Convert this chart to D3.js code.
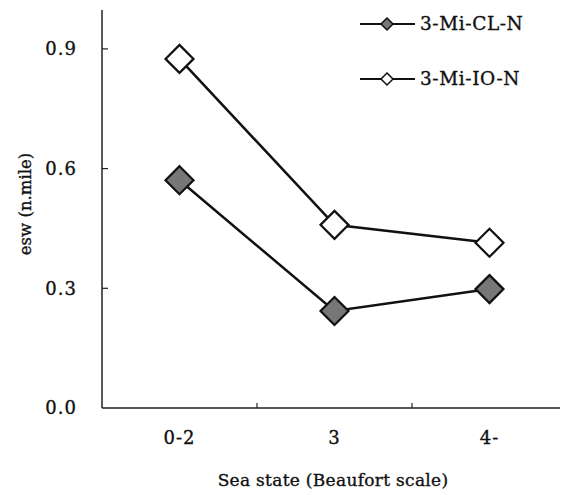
<!DOCTYPE html>
<html>
<head>
<meta charset="utf-8">
<script src="https://cdn.jsdelivr.net/npm/d3@7"></script>
<style>
  html, body { margin: 0; padding: 0; background: #fff; }
  svg { display: block; }
</style>
</head>
<body>
<svg id="chart" width="562" height="495"></svg>
<script>
const categories = ["0-2", "3", "4-"];
const seriesNames = ["3-Mi-CL-N", "3-Mi-IO-N"];
const clValues = [0.571, 0.243, 0.298];
const ioValues = [0.875, 0.459, 0.414];
const yTicks = [0.0, 0.3, 0.6, 0.9];
const xTitle = "Sea state (Beaufort scale)";
const yTitle = "esw (n.mile)";

const FONT = "'DejaVu Serif', serif";

const series = [
  { name: seriesNames[0], values: clValues, fill: "#777" },
  { name: seriesNames[1], values: ioValues, fill: "#fff" }
];

const svg = d3.select("#chart");
const pLeft = 102, pRight = 567, pTop = 9, pBottom = 408;

const x = d3.scaleBand().domain(categories).range([pLeft, pRight]);
const y = d3.scaleLinear().domain([0, 1]).range([pBottom, pTop]);

function txt(sel, size, ls) {
  return sel.attr("font-family", FONT).attr("font-size", size)
    .attr("letter-spacing", ls).attr("fill", "#111")
    .attr("stroke", "#111").attr("stroke-width", 0.35);
}

// axes lines
svg.append("line").attr("x1", pLeft).attr("x2", pLeft).attr("y1", y(1) + 1).attr("y2", pBottom)
  .attr("stroke", "#222").attr("stroke-width", 1.5);
svg.append("line").attr("x1", pLeft).attr("x2", 560).attr("y1", pBottom).attr("y2", pBottom)
  .attr("stroke", "#222").attr("stroke-width", 1.5);

// y ticks (inward)
const yAxis = svg.append("g");
yAxis.selectAll("line").data(yTicks.filter(d => d > 0)).join("line")
  .attr("x1", pLeft).attr("x2", pLeft + 6)
  .attr("y1", d => y(d)).attr("y2", d => y(d))
  .attr("stroke", "#222").attr("stroke-width", 1.2);
txt(yAxis.selectAll("text").data(yTicks).join("text"), 18, 1)
  .attr("x", 77).attr("y", d => y(d)).attr("dy", "0.35em")
  .attr("text-anchor", "end")
  .text(d => d3.format(".1f")(d));

// x ticks between categories (inward)
const xBoundaries = categories.slice(1).map(c => x(c));
const xAxis = svg.append("g");
xAxis.selectAll("line").data(xBoundaries).join("line")
  .attr("x1", d => d).attr("x2", d => d)
  .attr("y1", pBottom).attr("y2", pBottom - 5)
  .attr("stroke", "#222").attr("stroke-width", 1.2);
txt(xAxis.selectAll("text").data(categories).join("text"), 18, 1)
  .attr("x", d => x(d) + x.bandwidth() / 2).attr("y", 438).attr("dy", "0.35em")
  .attr("text-anchor", "middle")
  .text(d => d);

// titles
txt(svg.append("text"), 17, 0.3)
  .attr("x", 333).attr("y", 480).attr("dy", "0.35em")
  .attr("text-anchor", "middle")
  .text(xTitle);
txt(svg.append("text"), 16.5, 0)
  .attr("transform", "translate(25,204) rotate(-90)")
  .attr("dy", "0.35em").attr("text-anchor", "middle")
  .text(yTitle);

const diamond = r => `M0,${-r}L${r},0L0,${r}L${-r},0Z`;
const line = d3.line().x((d, i) => x(categories[i]) + x.bandwidth() / 2).y(d => y(d));

series.forEach(s => {
  svg.append("path").attr("d", line(s.values))
    .attr("fill", "none").attr("stroke", "#111").attr("stroke-width", 2.5);
});
series.forEach(s => {
  svg.append("g").selectAll("path").data(s.values).join("path")
    .attr("transform", (d, i) => `translate(${x(categories[i]) + x.bandwidth() / 2},${y(d)})`)
    .attr("d", diamond(14))
    .attr("fill", s.fill).attr("stroke", "#111").attr("stroke-width", 2.2);
});

// legend
const legend = svg.append("g");
series.forEach((s, i) => {
  const ly = 24 + i * 55;
  legend.append("line").attr("x1", 360).attr("x2", 415).attr("y1", ly).attr("y2", ly)
    .attr("stroke", "#111").attr("stroke-width", 2.2);
  legend.append("path").attr("transform", `translate(387,${ly})`).attr("d", diamond(6))
    .attr("fill", s.fill).attr("stroke", "#111").attr("stroke-width", 1.5);
  txt(legend.append("text"), 18.5, 0.6)
    .attr("x", 420).attr("y", ly).attr("dy", "0.35em")
    .text(s.name);
});
</script>
</body>
</html>
